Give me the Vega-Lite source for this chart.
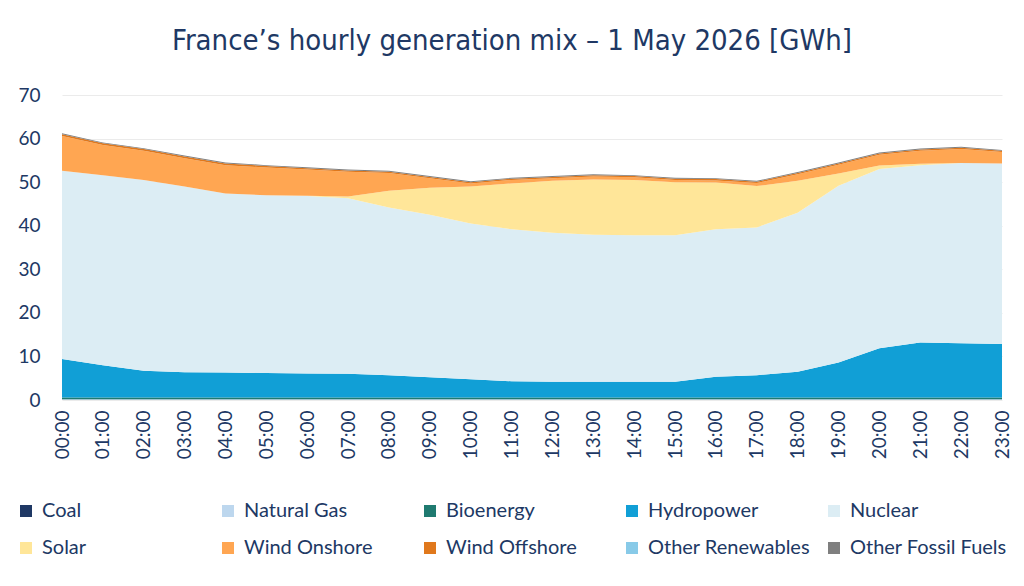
{
  "$schema": "https://vega.github.io/schema/vega-lite/v6.json",
  "width": 940,
  "height": 305,
  "autosize": {"type": "none"},
  "padding": {"left": 62, "top": 95, "right": 22, "bottom": 186},
  "background": "white",
  "title": {
    "text": "France’s hourly generation mix – 1 May 2026 [GWh]",
    "font": "'Liberation Sans Narrow', 'DejaVu Sans Condensed', sans-serif",
    "fontSize": 29,
    "fontWeight": "normal",
    "color": "#203864",
    "anchor": "middle",
    "dx": -20,
    "offset": 30
  },
  "data": {
    "values": [
      {"hour": "00:00", "Coal": 0, "Natural Gas": 0.15, "Bioenergy": 0.4, "Hydropower": 8.85, "Nuclear": 43.2, "Solar": 0, "Wind Onshore": 8.0, "Wind Offshore": 0.4, "Other Renewables": 0, "Other Fossil Fuels": 0.2},
      {"hour": "01:00", "Coal": 0, "Natural Gas": 0.15, "Bioenergy": 0.4, "Hydropower": 7.45, "Nuclear": 43.6, "Solar": 0, "Wind Onshore": 6.9, "Wind Offshore": 0.4, "Other Renewables": 0, "Other Fossil Fuels": 0.2},
      {"hour": "02:00", "Coal": 0, "Natural Gas": 0.15, "Bioenergy": 0.4, "Hydropower": 6.15, "Nuclear": 43.8, "Solar": 0, "Wind Onshore": 6.7, "Wind Offshore": 0.4, "Other Renewables": 0, "Other Fossil Fuels": 0.2},
      {"hour": "03:00", "Coal": 0, "Natural Gas": 0.15, "Bioenergy": 0.4, "Hydropower": 5.8, "Nuclear": 42.65, "Solar": 0, "Wind Onshore": 6.5, "Wind Offshore": 0.4, "Other Renewables": 0, "Other Fossil Fuels": 0.2},
      {"hour": "04:00", "Coal": 0, "Natural Gas": 0.15, "Bioenergy": 0.4, "Hydropower": 5.75, "Nuclear": 41.1, "Solar": 0, "Wind Onshore": 6.5, "Wind Offshore": 0.4, "Other Renewables": 0, "Other Fossil Fuels": 0.2},
      {"hour": "05:00", "Coal": 0, "Natural Gas": 0.15, "Bioenergy": 0.4, "Hydropower": 5.65, "Nuclear": 40.8, "Solar": 0, "Wind Onshore": 6.35, "Wind Offshore": 0.35, "Other Renewables": 0, "Other Fossil Fuels": 0.2},
      {"hour": "06:00", "Coal": 0, "Natural Gas": 0.15, "Bioenergy": 0.4, "Hydropower": 5.55, "Nuclear": 40.7, "Solar": 0.1, "Wind Onshore": 6.0, "Wind Offshore": 0.3, "Other Renewables": 0, "Other Fossil Fuels": 0.2},
      {"hour": "07:00", "Coal": 0, "Natural Gas": 0.15, "Bioenergy": 0.4, "Hydropower": 5.45, "Nuclear": 40.3, "Solar": 0.4, "Wind Onshore": 5.7, "Wind Offshore": 0.3, "Other Renewables": 0, "Other Fossil Fuels": 0.2},
      {"hour": "08:00", "Coal": 0, "Natural Gas": 0.15, "Bioenergy": 0.4, "Hydropower": 5.15, "Nuclear": 38.5, "Solar": 3.8, "Wind Onshore": 4.1, "Wind Offshore": 0.3, "Other Renewables": 0, "Other Fossil Fuels": 0.2},
      {"hour": "09:00", "Coal": 0, "Natural Gas": 0.15, "Bioenergy": 0.4, "Hydropower": 4.65, "Nuclear": 37.3, "Solar": 6.2, "Wind Onshore": 2.2, "Wind Offshore": 0.3, "Other Renewables": 0, "Other Fossil Fuels": 0.2},
      {"hour": "10:00", "Coal": 0, "Natural Gas": 0.15, "Bioenergy": 0.4, "Hydropower": 4.2, "Nuclear": 35.75, "Solar": 8.5, "Wind Onshore": 0.7, "Wind Offshore": 0.3, "Other Renewables": 0, "Other Fossil Fuels": 0.2},
      {"hour": "11:00", "Coal": 0, "Natural Gas": 0.15, "Bioenergy": 0.4, "Hydropower": 3.75, "Nuclear": 34.9, "Solar": 10.5, "Wind Onshore": 0.8, "Wind Offshore": 0.3, "Other Renewables": 0, "Other Fossil Fuels": 0.2},
      {"hour": "12:00", "Coal": 0, "Natural Gas": 0.15, "Bioenergy": 0.4, "Hydropower": 3.65, "Nuclear": 34.2, "Solar": 11.9, "Wind Onshore": 0.6, "Wind Offshore": 0.3, "Other Renewables": 0, "Other Fossil Fuels": 0.2},
      {"hour": "13:00", "Coal": 0, "Natural Gas": 0.15, "Bioenergy": 0.4, "Hydropower": 3.65, "Nuclear": 33.7, "Solar": 12.7, "Wind Onshore": 0.7, "Wind Offshore": 0.3, "Other Renewables": 0, "Other Fossil Fuels": 0.2},
      {"hour": "14:00", "Coal": 0, "Natural Gas": 0.15, "Bioenergy": 0.4, "Hydropower": 3.65, "Nuclear": 33.6, "Solar": 12.7, "Wind Onshore": 0.6, "Wind Offshore": 0.3, "Other Renewables": 0, "Other Fossil Fuels": 0.2},
      {"hour": "15:00", "Coal": 0, "Natural Gas": 0.15, "Bioenergy": 0.4, "Hydropower": 3.65, "Nuclear": 33.6, "Solar": 12.2, "Wind Onshore": 0.5, "Wind Offshore": 0.3, "Other Renewables": 0, "Other Fossil Fuels": 0.2},
      {"hour": "16:00", "Coal": 0, "Natural Gas": 0.15, "Bioenergy": 0.4, "Hydropower": 4.8, "Nuclear": 33.85, "Solar": 10.7, "Wind Onshore": 0.5, "Wind Offshore": 0.3, "Other Renewables": 0, "Other Fossil Fuels": 0.2},
      {"hour": "17:00", "Coal": 0, "Natural Gas": 0.15, "Bioenergy": 0.4, "Hydropower": 5.15, "Nuclear": 33.9, "Solar": 9.5, "Wind Onshore": 0.7, "Wind Offshore": 0.3, "Other Renewables": 0, "Other Fossil Fuels": 0.2},
      {"hour": "18:00", "Coal": 0, "Natural Gas": 0.15, "Bioenergy": 0.4, "Hydropower": 5.95, "Nuclear": 36.5, "Solar": 7.3, "Wind Onshore": 1.5, "Wind Offshore": 0.3, "Other Renewables": 0, "Other Fossil Fuels": 0.2},
      {"hour": "19:00", "Coal": 0, "Natural Gas": 0.15, "Bioenergy": 0.4, "Hydropower": 8.05, "Nuclear": 40.6, "Solar": 2.8, "Wind Onshore": 2.0, "Wind Offshore": 0.3, "Other Renewables": 0, "Other Fossil Fuels": 0.2},
      {"hour": "20:00", "Coal": 0, "Natural Gas": 0.15, "Bioenergy": 0.4, "Hydropower": 11.35, "Nuclear": 41.1, "Solar": 0.8, "Wind Onshore": 2.5, "Wind Offshore": 0.3, "Other Renewables": 0, "Other Fossil Fuels": 0.2},
      {"hour": "21:00", "Coal": 0, "Natural Gas": 0.15, "Bioenergy": 0.4, "Hydropower": 12.65, "Nuclear": 40.7, "Solar": 0.3, "Wind Onshore": 3.0, "Wind Offshore": 0.3, "Other Renewables": 0, "Other Fossil Fuels": 0.2},
      {"hour": "22:00", "Coal": 0, "Natural Gas": 0.15, "Bioenergy": 0.4, "Hydropower": 12.45, "Nuclear": 41.4, "Solar": 0, "Wind Onshore": 3.2, "Wind Offshore": 0.3, "Other Renewables": 0, "Other Fossil Fuels": 0.2},
      {"hour": "23:00", "Coal": 0, "Natural Gas": 0.15, "Bioenergy": 0.4, "Hydropower": 12.3, "Nuclear": 41.45, "Solar": 0, "Wind Onshore": 2.6, "Wind Offshore": 0.3, "Other Renewables": 0, "Other Fossil Fuels": 0.2}
    ]
  },
  "transform": [
    {"fold": ["Coal", "Natural Gas", "Bioenergy", "Hydropower", "Nuclear", "Solar", "Wind Onshore", "Wind Offshore", "Other Renewables", "Other Fossil Fuels"], "as": ["source", "value"]},
    {"calculate": "indexof(['Coal', 'Natural Gas', 'Bioenergy', 'Hydropower', 'Nuclear', 'Solar', 'Wind Onshore', 'Wind Offshore', 'Other Renewables', 'Other Fossil Fuels'], datum.source)", "as": "stackOrder"}
  ],
  "mark": {"type": "area", "interpolate": "linear"},
  "encoding": {
    "x": {
      "field": "hour",
      "type": "ordinal",
      "scale": {"type": "point", "padding": 0},
      "axis": {
        "title": null,
        "labelAngle": -90,
        "labelAlign": "right",
        "labelBaseline": "middle",
        "labelFont": "Lato",
        "labelFontSize": 19,
        "labelColor": "#203864",
        "labelPadding": 10,
        "ticks": false,
        "tickSize": 0,
        "domain": false,
        "grid": false
      }
    },
    "y": {
      "field": "value",
      "type": "quantitative",
      "stack": "zero",
      "scale": {"domain": [0, 70], "nice": false},
      "axis": {
        "title": null,
        "values": [0, 10, 20, 30, 40, 50, 60, 70],
        "labelFont": "Lato",
        "labelFontSize": 19,
        "labelColor": "#203864",
        "labelPadding": 22,
        "ticks": false,
        "tickSize": 0,
        "domain": false,
        "gridColor": "#EBEBEB",
        "gridWidth": 1
      }
    },
    "order": {"field": "stackOrder", "type": "quantitative", "sort": "ascending"},
    "color": {
      "field": "source",
      "type": "nominal",
      "sort": ["Coal", "Natural Gas", "Bioenergy", "Hydropower", "Nuclear", "Solar", "Wind Onshore", "Wind Offshore", "Other Renewables", "Other Fossil Fuels"],
      "scale": {
        "domain": ["Coal", "Natural Gas", "Bioenergy", "Hydropower", "Nuclear", "Solar", "Wind Onshore", "Wind Offshore", "Other Renewables", "Other Fossil Fuels"],
        "range": ["#1F3864", "#BDD7EE", "#1F7A70", "#119FD6", "#DCEDF4", "#FFE699", "#FFA652", "#E0781C", "#88CAE8", "#7F7F7F"]
      },
      "legend": {
        "orient": "none",
        "legendX": -46,
        "legendY": 406,
        "direction": "horizontal",
        "columns": 5,
        "title": null,
        "symbolType": "square",
        "symbolSize": 144,
        "symbolStrokeWidth": 0,
        "labelFont": "Lato",
        "labelFontSize": 20,
        "labelColor": "#203864",
        "labelOffset": 6,
        "labelLimit": 300,
        "columnPadding": 14,
        "rowPadding": 17,
        "gridAlign": "all"
      }
    }
  },
  "config": {"view": {"stroke": null}}
}
